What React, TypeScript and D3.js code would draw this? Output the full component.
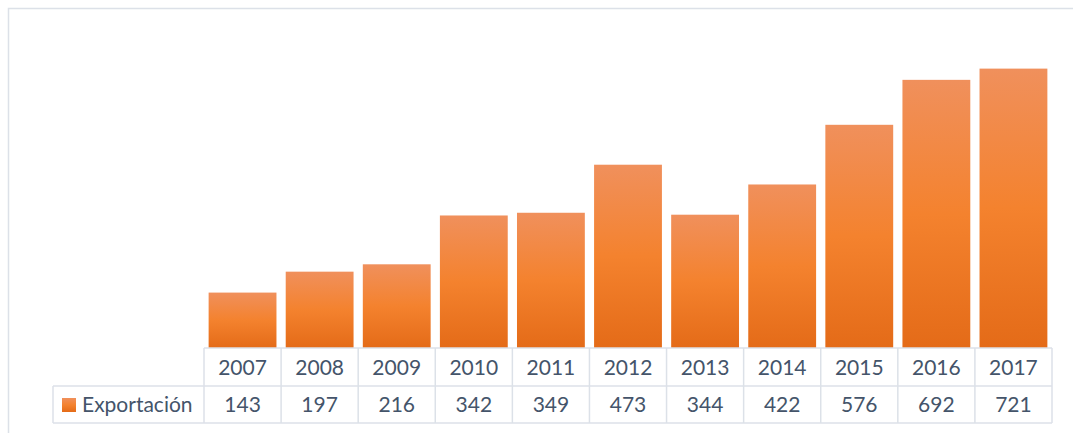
import { useMemo } from 'react';
import * as d3 from 'd3';

const YEARS = ['2007', '2008', '2009', '2010', '2011', '2012', '2013', '2014', '2015', '2016', '2017'];
const EXPORTS = [143, 197, 216, 342, 349, 473, 344, 422, 576, 692, 721];
const SERIES_NAME = 'Exportación';

const WIDTH = 1073;
const HEIGHT = 433;
const TEXT_COLOR = '#44546A';
const GRID_COLOR = '#DCE1E8';

export default function App() {
  const x = useMemo(
    () => d3.scaleBand<string>().domain(YEARS).range([204, 1052]).paddingInner(0).paddingOuter(0),
    [],
  );
  const xBar = useMemo(
    () => d3.scaleBand<string>().domain(YEARS).range([204, 1052]).paddingInner(0.12).paddingOuter(0.06),
    [],
  );
  const y = useMemo(() => d3.scaleLinear().domain([0, 800]).range([348, 38]), []);

  const headTop = 348;
  const rowMid = 386;
  const tableBottom = 423;
  const legendLeft = 53;
  const bw = x.bandwidth();

  return (
    <div style={{ position: 'fixed', left: 0, top: 0 }}>
      <svg width={WIDTH} height={HEIGHT} style={{ display: 'block', fontFamily: 'Lato, sans-serif' }}>
        <defs>
          <linearGradient id="barGrad" x1="0" y1="0" x2="0" y2="1">
            <stop offset="0" stopColor="#F0905C" />
            <stop offset="0.5" stopColor="#F4822E" />
            <stop offset="1" stopColor="#E46B18" />
          </linearGradient>
        </defs>
        <rect x={0} y={0} width={WIDTH} height={HEIGHT} fill="#fff" />
        {/* chart frame, runs off the right and bottom edges */}
        <rect x={8.5} y={8.5} width={WIDTH + 20} height={HEIGHT + 20} fill="none" stroke={GRID_COLOR} strokeWidth={1.5} />

        {YEARS.map((yr, i) => (
          <rect
            key={yr}
            x={xBar(yr)}
            y={y(EXPORTS[i])}
            width={xBar.bandwidth()}
            height={y(0) - y(EXPORTS[i])}
            fill="url(#barGrad)"
          />
        ))}

        {/* data table */}
        <g stroke={GRID_COLOR} strokeWidth={1.5} fill="none">
          <line x1={204} x2={1052} y1={headTop} y2={headTop} />
          <line x1={legendLeft} x2={1052} y1={rowMid} y2={rowMid} />
          <line x1={legendLeft} x2={1052} y1={tableBottom} y2={tableBottom} />
          <line x1={legendLeft} x2={legendLeft} y1={rowMid} y2={tableBottom} />
          {YEARS.map((yr) => (
            <line key={yr} x1={x(yr)} x2={x(yr)} y1={headTop} y2={tableBottom} />
          ))}
          <line x1={1052} x2={1052} y1={headTop} y2={tableBottom} />
        </g>

        <g fill={TEXT_COLOR} fontSize={21} textAnchor="middle">
          {YEARS.map((yr, i) => (
            <g key={yr}>
              <text x={(x(yr) ?? 0) + bw / 2} y={(headTop + rowMid) / 2} dy="0.36em">
                {yr}
              </text>
              <text x={(x(yr) ?? 0) + bw / 2} y={(rowMid + tableBottom) / 2} dy="0.36em">
                {EXPORTS[i]}
              </text>
            </g>
          ))}
        </g>

        <rect x={62} y={398} width={14} height={14} fill="url(#barGrad)" />
        <text x={82} y={(rowMid + tableBottom) / 2} dy="0.36em" fontSize={21} fill={TEXT_COLOR}>
          {SERIES_NAME}
        </text>
      </svg>
    </div>
  );
}
